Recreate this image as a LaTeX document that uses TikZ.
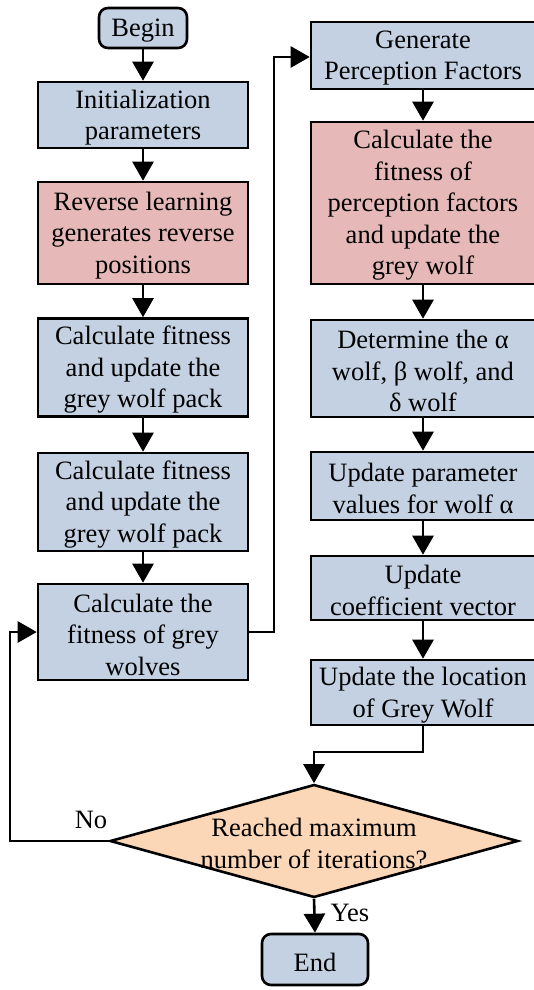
\documentclass[tikz,border=0pt]{standalone}
\usepackage{fontspec}
\setmainfont{Liberation Serif}
\newfontfamily\tnr{Liberation Serif}
\usetikzlibrary{arrows.meta,shapes.geometric,positioning}
\definecolor{bluef}{RGB}{196,209,227}
\definecolor{redf}{RGB}{230,185,184}
\definecolor{orangef}{RGB}{251,214,183}
\begin{document}
\begin{tikzpicture}[x=1pt,y=-1pt,
  every node/.style={font=\tnr\fontsize{26.5}{31.5}\selectfont, inner sep=0pt, align=center},
  boxL/.style={draw, line width=2.6pt, fill=bluef, minimum width=210pt},
  boxR/.style={draw, line width=2.6pt, fill=bluef, minimum width=224pt},
  redL/.style={boxL, fill=redf},
  redR/.style={boxR, fill=redf},
  term/.style={draw, line width=2.6pt, fill=bluef, rounded corners=9pt},
  conn/.style={line width=2.6pt, -{Triangle[length=19pt,width=21pt]}},
  lbl/.style={yshift=-2.5pt}
]
\useasboundingbox (0,0) rectangle (534,990);
% left column
\node[term, minimum width=88pt, minimum height=40pt] (begin) at (143,28) {};
\node[lbl] (tbegin) at (begin) {Begin};
\node[boxL, minimum height=66pt] (init) at (143,115) {};
\node[lbl] (tinit) at (init) {Initialization\\parameters};
\node[redL, minimum height=102pt] (rev) at (143,233) {};
\node[lbl] (trev) at (rev) {Reverse learning\\generates reverse\\positions};
\node[boxL, minimum height=98pt] (calc1) at (143,367.5) {};
\node[lbl] (tcalc1) at (calc1) {Calculate fitness\\and update the\\grey wolf pack};
\node[boxL, minimum height=98pt] (calc2) at (143,502) {};
\node[lbl] (tcalc2) at (calc2) {Calculate fitness\\and update the\\grey wolf pack};
\node[boxL, minimum height=96pt] (calc3) at (143,632) {};
\node[lbl] (tcalc3) at (calc3) {Calculate the\\fitness of grey\\wolves};
% right column
\node[boxR, minimum height=67pt] (gen) at (423,55.5) {};
\node[lbl] (tgen) at (gen) {Generate\\Perception Factors};
\node[redR, minimum height=162pt] (pfit) at (423,203) {};
\node[lbl] (tpfit) at (pfit) {Calculate the\\fitness of\\perception factors\\and update the\\grey wolf};
\node[boxR, minimum height=97pt] (det) at (423,368.5) {};
\node[lbl] (tdet) at (det) {Determine the α\\wolf, β wolf, and\\δ wolf};
\node[boxR, minimum height=68pt] (upar) at (423,486) {};
\node[lbl] (tupar) at (upar) {Update parameter\\values for wolf α};
\node[boxR, minimum height=64pt] (ucoef) at (423,588) {};
\node[lbl] (tucoef) at (ucoef) {Update\\coefficient vector};
\node[boxR, minimum height=65pt] (uloc) at (423,692.5) {};
\node[lbl] (tuloc) at (uloc) {Update the location\\of Grey Wolf};
% decision
\node[draw, line width=2.6pt, fill=orangef, diamond, aspect=3.61, minimum width=408pt, minimum height=113pt, inner sep=0pt] (dec) at (314,841) {};
\node[lbl] (tdec) at (314,841) {Reached maximum\\number of iterations?};
\node[term, minimum width=106pt, minimum height=51pt] (end) at (315,959.5) {};
\node[lbl] (tend) at (end) {End};
% connectors
\draw[conn] (begin) -- (init);
\draw[conn] (init) -- (rev);
\draw[conn] (rev) -- (calc1);
\draw[conn] (calc1) -- (calc2);
\draw[conn] (calc2) -- (calc3);
\coordinate (j1) at (274,632);
\coordinate (j2) at (274,57);
\draw[conn] (calc3.east) -- (j1) -- (j2) -- (gen.west |- j2);
\draw[conn] (gen) -- (pfit);
\draw[conn] (pfit) -- (det);
\draw[conn] (det) -- (upar);
\draw[conn] (upar) -- (ucoef);
\draw[conn] (ucoef) -- (uloc);
\coordinate (k1) at (423,752);
\coordinate (k2) at (314,752);
\draw[conn] (uloc.south) -- (k1) -- (k2) -- (dec.north);
\coordinate (n1) at (10,841);
\coordinate (n2) at (10,632);
\draw[conn] (dec.west) -- (n1) -- (n2) -- (calc3.west);
\node (no) at (91,820) {No};
\draw[conn] (dec.south) -- (end.north);
\node (yes) at (350,913) {Yes};
\end{tikzpicture}
\end{document}
